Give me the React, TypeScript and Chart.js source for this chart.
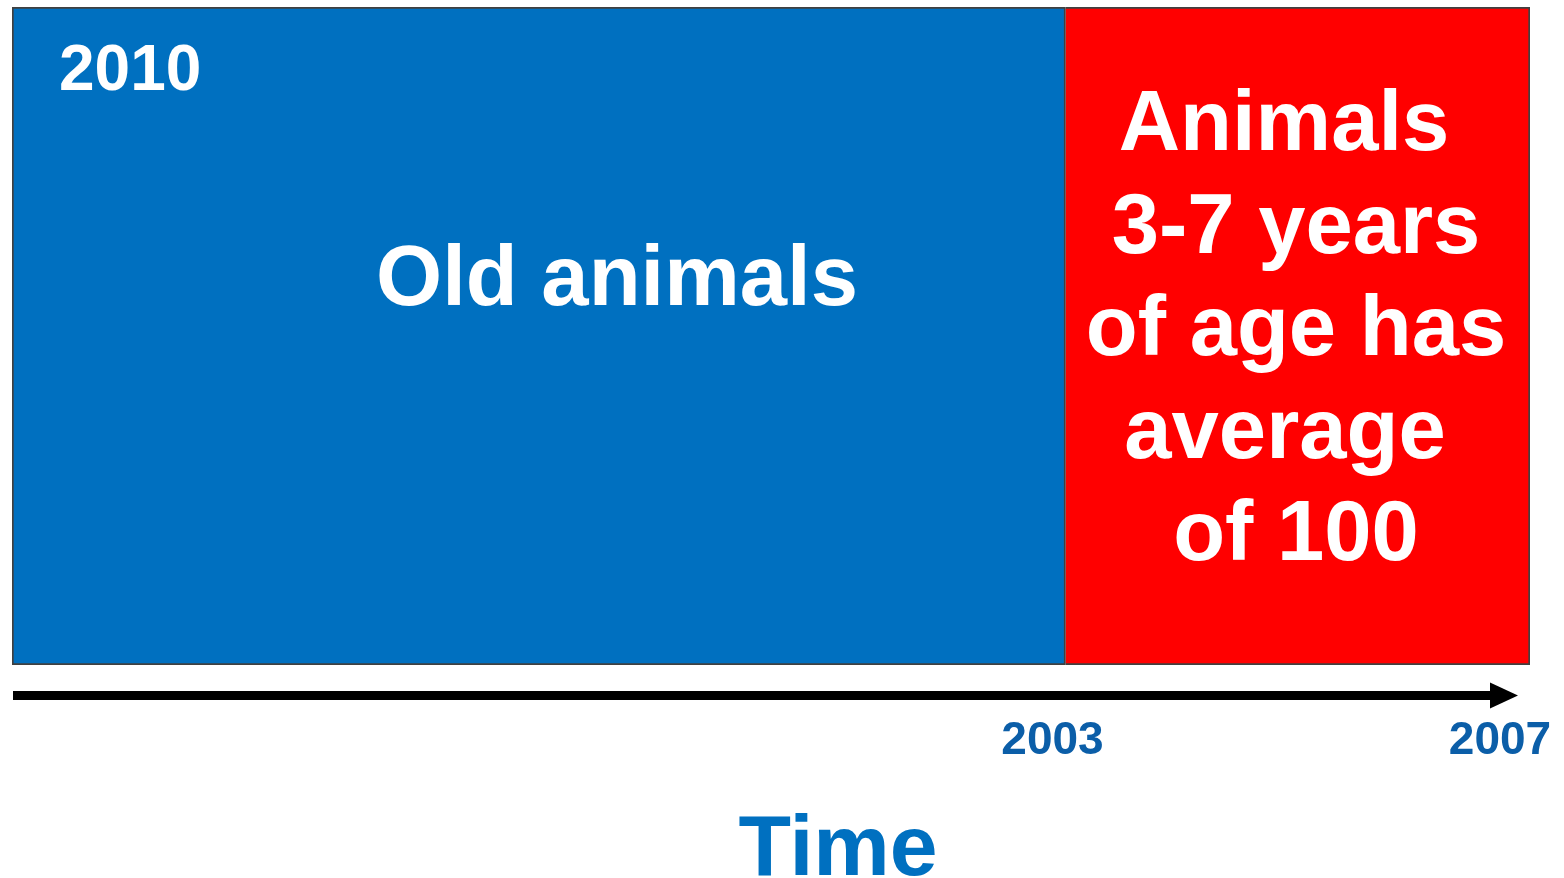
import React, { useEffect, useRef } from "react";
import { Chart, registerables } from "chart.js";

Chart.register(...registerables);

// One stacked horizontal bar: share of the time span per animal group
const categories = ["Time"];
const oldAnimals = [69.4];
const youngAnimals = [30.6];
const seriesNames = ["Old animals", "Animals 3-7 years of age has average of 100"];
const startYear = "2010";
const tickYears = ["2003", "2007"];
const youngLines = ["Animals", "3-7 years", "of age has", "average", "of 100"];
const axisTitle = "Time";

const FONT = '"Liberation Sans", Arial, sans-serif';
const BLUE = "#0070C0";
const RED = "#FF0000";
const EDGE = "#404040";

const overlayPlugin = {
  id: "timelineOverlay",
  afterDatasetsDraw(chart: any) {
    const { ctx, scales } = chart;
    const x = scales.x;
    const split = x.getPixelForValue(oldAnimals[0]);
    const end = x.getPixelForValue(oldAnimals[0] + youngAnimals[0]);
    const left = x.getPixelForValue(0);

    ctx.save();
    ctx.fillStyle = "#ffffff";
    ctx.textBaseline = "alphabetic";

    // start year inside the blue block
    ctx.font = `bold 64px ${FONT}`;
    ctx.textAlign = "left";
    ctx.fillText(startYear, left + 47, 90);

    // blue block label
    ctx.font = `bold 85px ${FONT}`;
    ctx.textAlign = "center";
    ctx.fillText(seriesNames[0], 617, 305);

    // red block label, one line at a time
    const centers = [1284, 1296, 1296, 1285, 1296];
    youngLines.forEach((line, i) => {
      ctx.fillText(line, centers[i], 150 + i * 102.5);
    });

    // time arrow
    const ay = 695.5;
    ctx.fillStyle = "#000000";
    ctx.fillRect(left + 1, ay - 4.5, 1492 - left, 9);
    ctx.beginPath();
    ctx.moveTo(1490, ay - 13);
    ctx.lineTo(1518, ay);
    ctx.lineTo(1490, ay + 13);
    ctx.closePath();
    ctx.fill();

    // year ticks
    ctx.fillStyle = "#0B5EA8";
    ctx.font = `bold 46px ${FONT}`;
    ctx.textAlign = "center";
    ctx.fillText(tickYears[0], split - 13, 754);
    ctx.fillText(tickYears[1], end - 30, 754);

    // axis title
    ctx.fillStyle = BLUE;
    ctx.font = `bold 86px ${FONT}`;
    ctx.fillText(axisTitle, 838, 875);
    ctx.restore();
  },
};

export default function App() {
  const canvasRef = useRef<HTMLCanvasElement | null>(null);

  useEffect(() => {
    if (!canvasRef.current) return;
    const chart = new Chart(canvasRef.current, {
      type: "bar",
      data: {
        labels: categories,
        datasets: [
          {
            label: seriesNames[0],
            data: oldAnimals,
            backgroundColor: BLUE,
            borderColor: EDGE,
            borderWidth: 2,
            borderSkipped: false,
            barPercentage: 1,
            categoryPercentage: 1,
          },
          {
            label: seriesNames[1],
            data: youngAnimals,
            backgroundColor: RED,
            borderColor: EDGE,
            borderWidth: { top: 2, right: 2, bottom: 2, left: 0 },
            borderSkipped: false,
            barPercentage: 1,
            categoryPercentage: 1,
          },
        ],
      },
      options: {
        indexAxis: "y",
        responsive: false,
        animation: false,
        maintainAspectRatio: false,
        layout: { padding: { left: 12, right: 34, top: 7, bottom: 213 } },
        scales: {
          x: { type: "linear", stacked: true, min: 0, max: 100, display: false },
          y: { stacked: true, display: false },
        },
        plugins: {
          legend: { display: false },
          tooltip: { enabled: false },
          title: { display: false },
        },
      },
      plugins: [overlayPlugin],
    });
    return () => chart.destroy();
  }, []);

  return (
    <div style={{ position: "absolute", left: 0, top: 0, width: 1564, height: 878, overflow: "hidden", background: "#fff" }}>
      <canvas ref={canvasRef} width={1564} height={878} style={{ display: "block" }} />
    </div>
  );
}
